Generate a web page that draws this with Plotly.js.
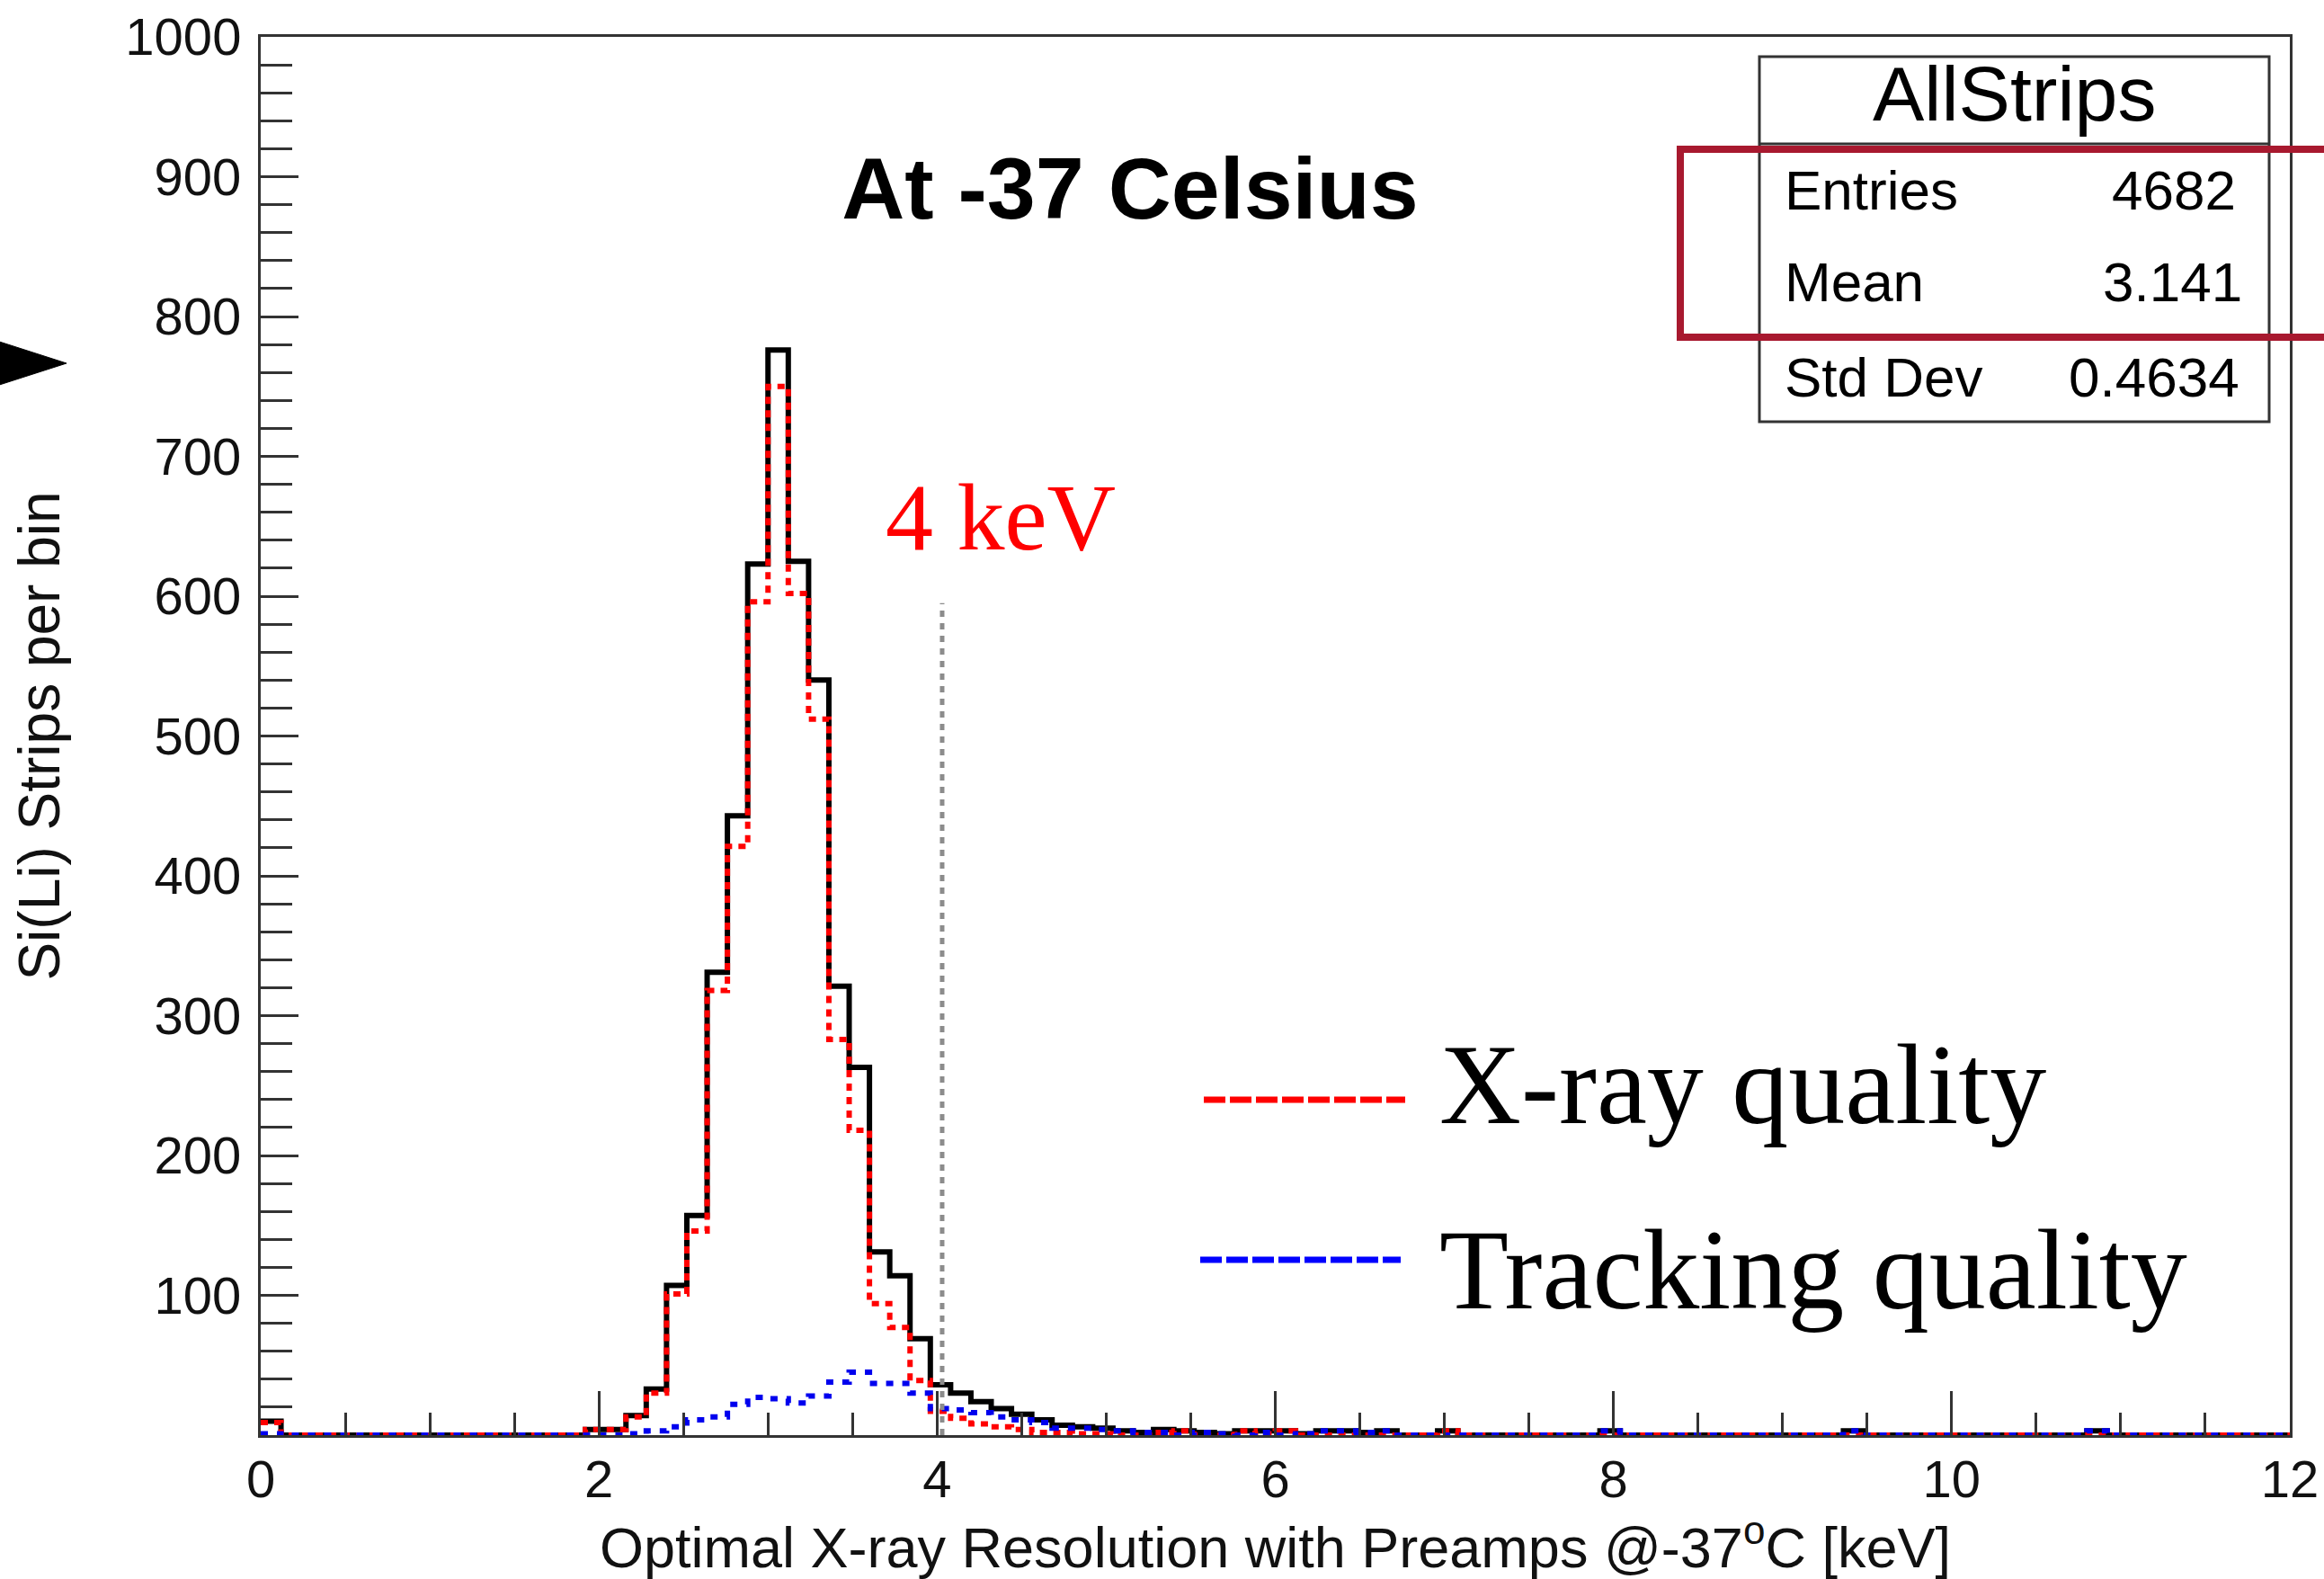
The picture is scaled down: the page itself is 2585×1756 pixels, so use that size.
<!DOCTYPE html>
<html>
<head>
<meta charset="utf-8">
<script src="https://cdn.plot.ly/plotly-3.0.1.min.js"></script>
<style>
  html, body { margin: 0; padding: 0; background: #ffffff; }
  #plot { width: 2585px; height: 1756px; }
</style>
</head>
<body>
<div id="plot"></div>
<script>
// Binning of the resolution histograms: 100 bins of 0.12 keV from 0 to 12 keV
const BIN_LOW = 0;
const BIN_WIDTH = 0.12;
const N_BINS = 100;

// Si(Li) strips per bin, all strips
const allStrips = [
  10, 0, 0, 0, 0, 0, 0, 0, 0, 0,
  0, 0, 0, 0, 0, 0, 4, 4, 14, 33,
  107, 157, 331, 443, 623, 776, 625, 540, 321, 263,
  131, 114, 69, 36, 30, 24, 19, 15, 11, 7,
  6, 5, 3, 2, 4, 3, 2, 1, 3, 3,
  3, 1, 3, 3, 2, 3, 0, 0, 3, 0,
  0, 0, 0, 0, 0, 0, 3, 0, 0, 0,
  0, 0, 0, 0, 0, 0, 0, 0, 3, 0,
  0, 0, 0, 0, 0, 0, 0, 0, 0, 0,
  3, 0, 0, 0, 0, 0, 0, 0, 0, 0
];

// Strips of X-ray quality
const xrayQuality = [
  9, 0, 0, 0, 0, 0, 0, 0, 0, 0,
  0, 0, 0, 0, 0, 0, 4, 4, 13, 30,
  101, 146, 318, 421, 596, 750, 602, 512, 283, 218,
  94, 77, 39, 17, 12, 8, 6, 4, 2, 2,
  1, 1, 0, 0, 2, 3, 0, 0, 3, 1,
  3, 0, 0, 0, 0, 0, 0, 0, 3, 0,
  0, 0, 0, 0, 0, 0, 0, 0, 0, 0,
  0, 0, 0, 0, 0, 0, 0, 0, 0, 0,
  0, 0, 0, 0, 0, 0, 0, 0, 0, 0,
  0, 0, 0, 0, 0, 0, 0, 0, 0, 0
];

// Strips of tracking quality
const trackingQuality = [
  1, 0, 0, 0, 0, 0, 0, 0, 0, 0,
  0, 0, 0, 0, 0, 0, 0, 0, 1, 3,
  6, 11, 13, 22, 27, 26, 23, 28, 38, 45,
  37, 37, 30, 19, 18, 16, 13, 11, 9, 5,
  5, 4, 3, 2, 2, 0, 2, 1, 0, 2,
  0, 1, 3, 3, 2, 3, 0, 0, 0, 0,
  0, 0, 0, 0, 0, 0, 3, 0, 0, 0,
  0, 0, 0, 0, 0, 0, 0, 0, 3, 0,
  0, 0, 0, 0, 0, 0, 0, 0, 0, 0,
  3, 0, 0, 0, 0, 0, 0, 0, 0, 0
];

// Axis ticks
const xTickVals = [0, 2, 4, 6, 8, 10, 12];
const xTickText = ["0", "2", "4", "6", "8", "10", "12"];
const yTickVals = [100, 200, 300, 400, 500, 600, 700, 800, 900, 1000];
const yTickText = ["100", "200", "300", "400", "500", "600", "700", "800", "900", "1000"];

// Statistics box
const statsTitle = "AllStrips";
const statsLabels = ["Entries", "Mean", "Std Dev"];
const statsValues = ["4682", "3.141", "0.4634"];

// 4 keV reference marker
const markerEnergy = 4.03;
const markerTop = 595;
const markerLabel = "4 keV";

// Legend entries
const legendLabels = ["X-ray quality", "Tracking quality"];

// ---------------------------------------------------------------
const W = 2585, H = 1756;
const M = { l: 290, r: 38, t: 41, b: 160 };
const PW = W - M.l - M.r;
const PH = H - M.t - M.b;
const px = v => (v - M.l) / PW;          // page x (px) -> paper x
const py = v => (H - M.b - v) / PH;      // page y (px) -> paper y

const SANS = "Liberation Sans, Arial, Helvetica, sans-serif";
const SERIF = "Liberation Serif, Times New Roman, serif";

function stepTrace(values, name, color, width, dash) {
  const xs = [], ys = [];
  for (let i = 0; i < N_BINS; i++) {
    xs.push(BIN_LOW + i * BIN_WIDTH);
    ys.push(values[i]);
  }
  xs.push(BIN_LOW + N_BINS * BIN_WIDTH);
  ys.push(values[N_BINS - 1]);
  return {
    type: "scatter", mode: "lines", name: name,
    x: xs, y: ys,
    line: { shape: "hv", color: color, width: width, dash: dash },
    hoverinfo: "skip", showlegend: false
  };
}

const traces = [
  stepTrace(allStrips, statsTitle, "#000000", 6, "solid"),
  stepTrace(xrayQuality, legendLabels[0], "#ff0000", 6, "8px,7px"),
  stepTrace(trackingQuality, legendLabels[1], "#0000ee", 6, "8px,10px")
];

const frameColor = "#333333";

const shapes = [
  // 4 keV marker line
  { type: "line", xref: "x", yref: "y", x0: markerEnergy, x1: markerEnergy, y0: 0, y1: markerTop,
    line: { color: "#8c8c8c", width: 5, dash: "7px,7px" }, layer: "above" },
  // statistics box
  { type: "rect", xref: "paper", yref: "paper", x0: px(1957), x1: px(2524), y0: py(63), y1: py(469),
    line: { color: frameColor, width: 3 }, fillcolor: "#ffffff", layer: "above" },
  { type: "line", xref: "paper", yref: "paper", x0: px(1957), x1: px(2524), y0: py(160), y1: py(160),
    line: { color: frameColor, width: 3 }, layer: "above" },
  // highlight around Entries / Mean
  { type: "rect", xref: "paper", yref: "paper", x0: px(1869), x1: px(2620), y0: py(166), y1: py(375),
    line: { color: "#a8192f", width: 8 }, layer: "above" },
  // arrow head at the left edge
  { type: "path", xref: "paper", yref: "paper",
    path: `M ${px(-10)} ${py(377)} L ${px(74)} ${py(404)} L ${px(-10)} ${py(431)} Z`,
    fillcolor: "#000000", line: { color: "#000000", width: 1 }, layer: "above" },
  // legend line samples
  { type: "line", xref: "paper", yref: "paper", x0: px(1339), x1: px(1563), y0: py(1223), y1: py(1223),
    line: { color: "#ff0000", width: 7, dash: "24px,5px" }, layer: "above" },
  { type: "line", xref: "paper", yref: "paper", x0: px(1335), x1: px(1558), y0: py(1401), y1: py(1401),
    line: { color: "#0000ff", width: 7, dash: "24px,5px" }, layer: "above" }
];

const annotations = [
  // statistics box text
  { xref: "paper", yref: "paper", x: px(2240), y: py(104), text: statsTitle, showarrow: false,
    xanchor: "center", yanchor: "middle", font: { family: SANS, size: 86, color: "#000" } },
  ...statsLabels.map((t, i) => ({
    xref: "paper", yref: "paper", x: px(1983), y: py([211, 313, 419][i]), text: t, showarrow: false,
    xanchor: "left", yanchor: "middle", font: { family: SANS, size: 62, color: "#000" } })),
  ...statsValues.map((t, i) => ({
    xref: "paper", yref: "paper", x: px([2489, 2496, 2493][i]), y: py([211, 313, 419][i]), text: t, showarrow: false,
    xanchor: "right", yanchor: "middle", font: { family: SANS, size: 62, color: "#000" } })),
  // marker label
  { xref: "x", yref: "y", x: 4.376, y: 656, text: markerLabel, showarrow: false,
    xanchor: "center", yanchor: "middle", font: { family: SERIF, size: 106, color: "#ff0000" } },
  // legend text
  { xref: "paper", yref: "paper", x: px(1599), y: py(1206), text: legendLabels[0], showarrow: false,
    xanchor: "left", yanchor: "middle", font: { family: SERIF, size: 126, color: "#000" } },
  { xref: "paper", yref: "paper", x: px(1599), y: py(1412), text: legendLabels[1], showarrow: false,
    xanchor: "left", yanchor: "middle", font: { family: SERIF, size: 126, color: "#000" } }
];

const layout = {
  width: W, height: H,
  margin: M,
  paper_bgcolor: "#ffffff", plot_bgcolor: "#ffffff",
  showlegend: false,
  title: {
    text: "<b>At -37 Celsius</b>",
    x: 1257 / W, xref: "container", xanchor: "center",
    y: 1 - 209 / H, yref: "container", yanchor: "middle",
    font: { family: SANS, size: 97, color: "#000" }
  },
  xaxis: {
    range: [0, 12], showgrid: false, zeroline: false,
    showline: true, linecolor: frameColor, linewidth: 3, mirror: true,
    ticks: "inside", ticklen: 49, tickwidth: 3, tickcolor: frameColor,
    tickmode: "array", tickvals: xTickVals, ticktext: xTickText,
    minor: { tickmode: "linear", tick0: 0, dtick: 0.5, ticks: "inside", ticklen: 25, tickwidth: 3, tickcolor: frameColor, showgrid: false },
    tickfont: { family: SANS, size: 58, color: "#111" },
    ticklabelstandoff: -4,
    title: { text: "Optimal X-ray Resolution with Preamps @-37<sup>o</sup>C [keV]",
      font: { family: SANS, size: 63, color: "#111" }, standoff: 36 },
    automargin: false, fixedrange: true
  },
  yaxis: {
    range: [0, 1000], showgrid: false, zeroline: false,
    showline: true, linecolor: frameColor, linewidth: 3, mirror: true,
    ticks: "inside", ticklen: 42, tickwidth: 3, tickcolor: frameColor,
    tickmode: "array", tickvals: yTickVals, ticktext: yTickText,
    minor: { tickmode: "linear", tick0: 0, dtick: 20, ticks: "inside", ticklen: 35, tickwidth: 3, tickcolor: frameColor, showgrid: false },
    tickfont: { family: SANS, size: 58, color: "#111" },
    ticklabelstandoff: 7,
    title: { text: "Si(Li) Strips per bin",
      font: { family: SANS, size: 64, color: "#111" }, standoff: 52 },
    automargin: false, fixedrange: true
  },
  shapes: shapes,
  annotations: annotations
};

Plotly.newPlot("plot", traces, layout, { displayModeBar: false, staticPlot: true });
</script>
</body>
</html>
